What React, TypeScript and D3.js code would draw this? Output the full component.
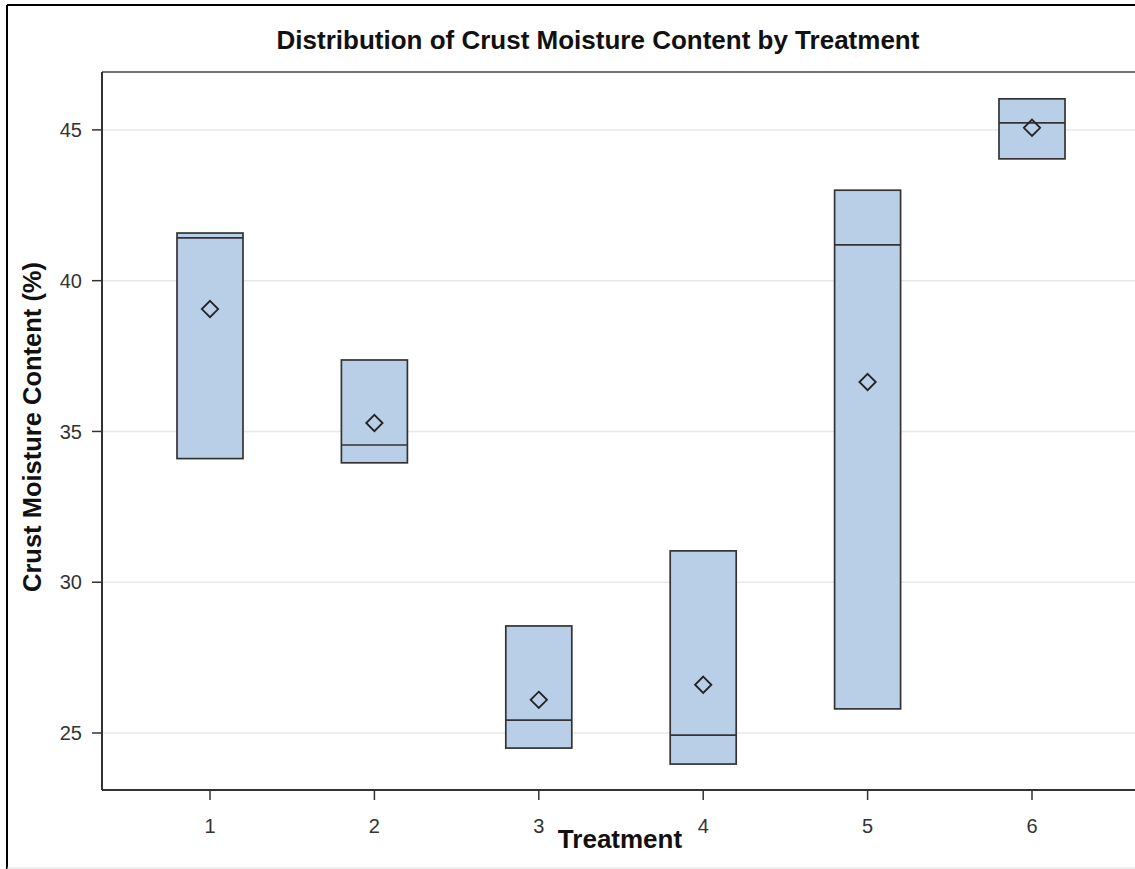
import React from "react";
import * as d3 from "d3";

const treatments = ["1", "2", "3", "4", "5", "6"];
const q1Values = [34.1, 33.96, 24.5, 23.97, 25.8, 44.04];
const q3Values = [41.58, 37.37, 28.55, 31.04, 43.0, 46.03];
const medianValues = [41.42, 34.55, 25.43, 24.93, 41.19, 45.23];
const meanValues = [39.06, 35.28, 26.1, 26.6, 36.64, 45.07];
const yTicks = [25, 30, 35, 40, 45];

const W = 1135;
const H = 869;
const plot = { left: 102, right: 1141, top: 72, bottom: 790 };

export default function App() {
  const y = d3.scaleLinear().domain([23.11, 46.92]).range([plot.bottom, plot.top]);
  const x = d3
    .scalePoint<string>()
    .domain(treatments)
    .range([210, 1032]);
  const boxW = 66;
  const font = "'Liberation Sans', Arial, sans-serif";
  const diamond = d3.symbol().type(d3.symbolDiamond2).size(170)();

  return (
    <svg
      width={W}
      height={H}
      style={{ position: "absolute", left: 0, top: 0, background: "#fff" }}
      fontFamily={font}
    >
      <rect x={0} y={0} width={W} height={H} fill="#fff" />
      {/* outer border */}
      <line x1={7} y1={5} x2={W} y2={5} stroke="#000" strokeWidth={2} />
      <line x1={7} y1={5} x2={7} y2={H} stroke="#000" strokeWidth={2} />
      <line x1={7} y1={H - 1} x2={W} y2={H - 1} stroke="#ddd" strokeWidth={1} />

      <text
        x={598}
        y={49}
        textAnchor="middle"
        fontSize={26}
        fontWeight="bold"
        fill="#111"
      >
        Distribution of Crust Moisture Content by Treatment
      </text>

      {/* gridlines */}
      {yTicks.map((t) => (
        <line
          key={"g" + t}
          x1={plot.left}
          x2={plot.right}
          y1={y(t)}
          y2={y(t)}
          stroke="#e8e8e8"
          strokeWidth={1.5}
        />
      ))}

      {/* boxes */}
      {treatments.map((t, i) => {
        const cx = x(t)!;
        const top = y(q3Values[i]);
        const bot = y(q1Values[i]);
        return (
          <g key={"b" + t}>
            <rect
              x={cx - boxW / 2}
              y={top}
              width={boxW}
              height={bot - top}
              fill="#b9cfe8"
              stroke="#333"
              strokeWidth={1.7}
            />
            <line
              x1={cx - boxW / 2}
              x2={cx + boxW / 2}
              y1={y(medianValues[i])}
              y2={y(medianValues[i])}
              stroke="#333"
              strokeWidth={1.7}
            />
            <path
              d={diamond!}
              transform={`translate(${cx},${y(meanValues[i])})`}
              fill="none"
              stroke="#222"
              strokeWidth={1.8}
            />
          </g>
        );
      })}

      {/* frame */}
      <line x1={plot.left} x2={plot.right} y1={plot.top} y2={plot.top} stroke="#444" strokeWidth={1.5} />
      <line x1={plot.left} x2={plot.left} y1={plot.top} y2={plot.bottom} stroke="#333" strokeWidth={2} />
      <line x1={plot.left} x2={plot.right} y1={plot.bottom} y2={plot.bottom} stroke="#333" strokeWidth={2} />

      {/* y ticks */}
      {yTicks.map((t) => (
        <g key={"yt" + t}>
          <line x1={plot.left - 10} x2={plot.left} y1={y(t)} y2={y(t)} stroke="#333" strokeWidth={1.5} />
          <text
            x={plot.left - 20}
            y={y(t)}
            dy="0.36em"
            textAnchor="end"
            fontSize={20}
            fill="#333"
          >
            {t}
          </text>
        </g>
      ))}

      {/* x ticks */}
      {treatments.map((t) => (
        <g key={"xt" + t}>
          <line x1={x(t)!} x2={x(t)!} y1={plot.bottom} y2={plot.bottom + 10} stroke="#333" strokeWidth={1.5} />
          <text x={x(t)!} y={833} textAnchor="middle" fontSize={20} fill="#333">
            {t}
          </text>
        </g>
      ))}

      <text x={620} y={848} textAnchor="middle" fontSize={26} fontWeight="bold" fill="#111">
        Treatment
      </text>
      <text
        transform={`translate(41,427) rotate(-90)`}
        textAnchor="middle"
        fontSize={25.5}
        fontWeight="bold"
        fill="#111"
      >
        Crust Moisture Content (%)
      </text>
    </svg>
  );
}
